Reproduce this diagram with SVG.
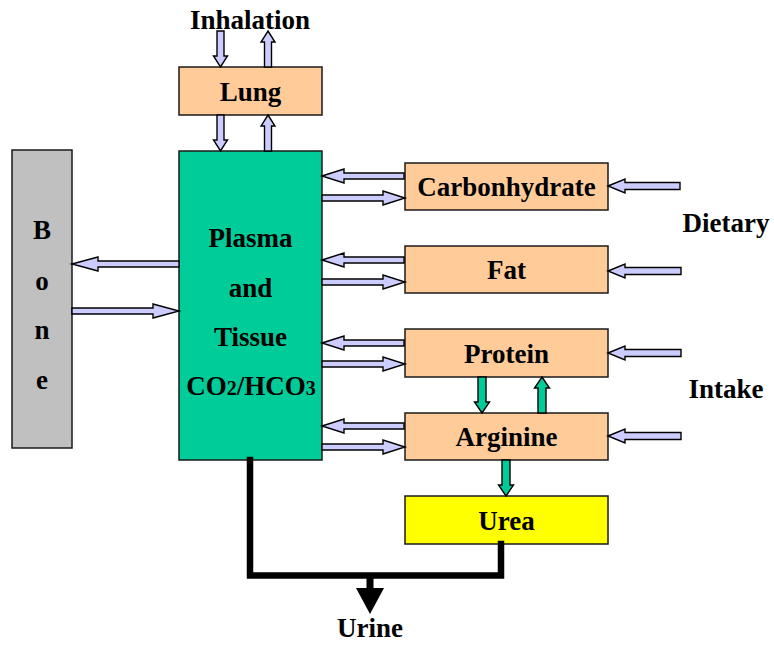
<svg xmlns="http://www.w3.org/2000/svg" width="774" height="645" viewBox="0 0 774 645">
<style>
text{font-family:"Liberation Serif","Times New Roman",serif;font-weight:bold;font-size:27px;fill:#000;text-anchor:middle}
.box{stroke:#1a1a1a;stroke-width:1.5}
.peach{fill:#FFCC99}
.arr{fill:#CCCCFF;stroke:#000;stroke-width:1.4;stroke-linejoin:miter}
.garr{fill:#00CC99;stroke:#000;stroke-width:1.4}
.urine{fill:none;stroke:#000;stroke-width:6.5;stroke-linecap:square}
</style>
<rect width="774" height="645" fill="#fff"/>
<g id="inhalation"><text x="250" y="29">Inhalation</text></g>
<g id="lung"><rect class="box peach" x="179" y="67" width="143" height="48"/><text x="250.5" y="101">Lung</text></g>
<g id="plasma"><rect class="box" fill="#00CC99" x="179" y="151" width="143" height="309"/>
<text x="250.5" y="247">Plasma</text><text x="250.5" y="297">and</text><text x="250.5" y="346">Tissue</text>
<text x="251" y="395">CO<tspan font-size="20">2</tspan>/HCO<tspan font-size="20">3</tspan></text></g>
<g id="bone"><rect class="box" fill="#C0C0C0" x="12" y="150" width="60" height="298"/>
<text x="42" y="239">B</text><text x="42" y="290">o</text><text x="42" y="339">n</text><text x="42" y="389">e</text></g>
<g id="carbonhydrate"><rect class="box peach" x="405" y="163" width="203" height="47"/><text x="506.5" y="196">Carbonhydrate</text></g>
<g id="fat"><rect class="box peach" x="405" y="246" width="203" height="47"/><text x="506.5" y="279">Fat</text></g>
<g id="protein"><rect class="box peach" x="405" y="329" width="203" height="48"/><text x="506.5" y="363">Protein</text></g>
<g id="arginine"><rect class="box peach" x="405" y="413" width="203" height="47"/><text x="506.5" y="446">Arginine</text></g>
<g id="urea"><rect class="box" fill="#FFFF00" x="405" y="496" width="203" height="48"/><text x="506.5" y="530">Urea</text></g>
<g id="dietary"><text x="726" y="232">Dietary</text></g>
<g id="intake"><text x="726" y="398">Intake</text></g>
<g id="urine"><text x="370" y="637">Urine</text></g>
<g id="connectors">
<!-- lung arrows -->
<polygon class="arr" points="217,31 224,31 224,56 227.5,56 220.5,67 213.5,56 217,56"/>
<polygon class="arr" points="268,31 275,42 271.5,42 271.5,67 264.5,67 264.5,42 261,42"/>
<polygon class="arr" points="217,115 224,115 224,140 227.5,140 220.5,151 213.5,140 217,140"/>
<polygon class="arr" points="268,115 275,126 271.5,126 271.5,151 264.5,151 264.5,126 261,126"/>
<!-- bone arrows -->
<polygon class="arr" points="72,264 98,257 98,261 179,261 179,267 98,267 98,271"/>
<polygon class="arr" points="72,308 153,308 153,304 179,311 153,318 153,314 72,314"/>
<!-- plasma <-> nutrient arrows -->
<polygon class="arr" points="322,176 344,169 344,173 404,173 404,179 344,179 344,183"/>
<polygon class="arr" points="322,195 383,195 383,191 405,198 383,205 383,201 322,201"/>
<polygon class="arr" points="322,260 344,253 344,257 404,257 404,263 344,263 344,267"/>
<polygon class="arr" points="322,279 383,279 383,275 405,282 383,289 383,285 322,285"/>
<polygon class="arr" points="322,343 344,336 344,340 404,340 404,346 344,346 344,350"/>
<polygon class="arr" points="322,361 383,361 383,357 405,364 383,371 383,367 322,367"/>
<polygon class="arr" points="322,426 344,419 344,423 404,423 404,429 344,429 344,433"/>
<polygon class="arr" points="322,444 383,444 383,440 405,447 383,454 383,450 322,450"/>
<!-- dietary intake arrows -->
<polygon class="arr" points="608,186 625,179 625,182.5 680,182.5 680,189.5 625,189.5 625,193"/>
<polygon class="arr" points="608,271 625,264 625,267.5 681,267.5 681,274.5 625,274.5 625,278"/>
<polygon class="arr" points="608,353 625,346 625,349.5 681,349.5 681,356.5 625,356.5 625,360"/>
<polygon class="arr" points="608,436 625,429 625,432.5 681,432.5 681,439.5 625,439.5 625,443"/>
<!-- green arrows -->
<polygon class="garr" points="478,377 486,377 486,402 489.5,402 482,413 474.5,402 478,402"/>
<polygon class="garr" points="542,377 549.5,388 546,388 546,413 538,413 538,388 534.5,388"/>
<polygon class="garr" points="502,460 510,460 510,485 513.5,485 506,496 498.5,485 502,485"/>
<!-- urine lines -->
<polyline class="urine" points="250,460 250,575.5 501,575.5 501,544"/>
<rect x="366.5" y="575" width="7" height="14" fill="#000"/>
<polygon points="356,588 384,588 370,614" fill="#000"/>
</g>
</svg>
